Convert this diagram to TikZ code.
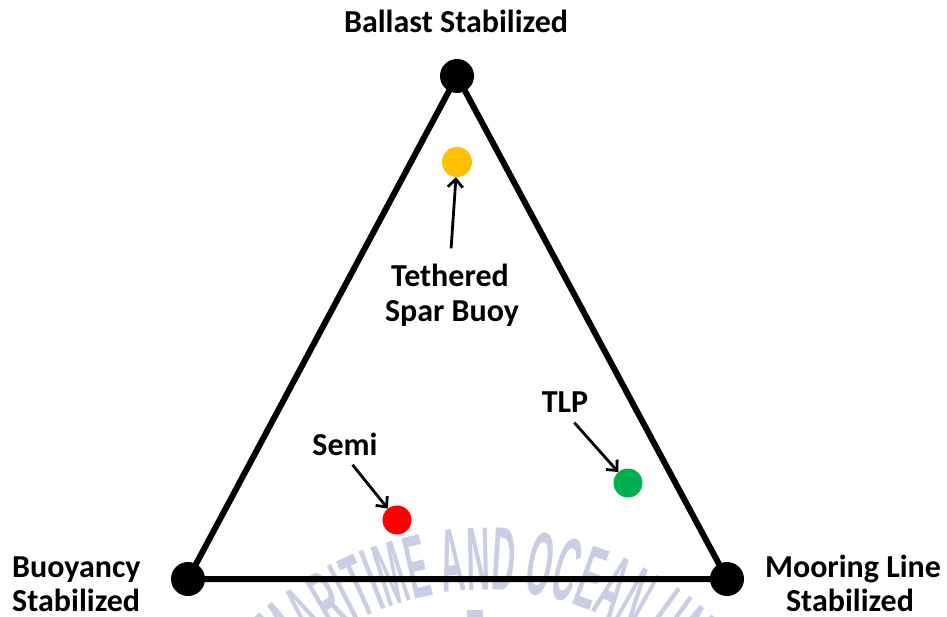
\documentclass[tikz,border=0pt]{standalone}
\usepackage{fontspec}
\setmainfont{Carlito}
\newfontfamily\wmfont[FakeStretch=0.36]{Liberation Sans Bold}
\usetikzlibrary{arrows.meta,decorations.text}
\definecolor{sparY}{RGB}{255,192,0}
\definecolor{semiR}{RGB}{255,0,0}
\definecolor{tlpG}{RGB}{0,176,80}
\definecolor{wmark}{RGB}{202,206,228}
\pgfdeclarelayer{background}
\pgfsetlayers{background,main}
\begin{document}
\begin{tikzpicture}[x=1pt,y=-1pt,
  lbl/.style={font=\fontsize{32}{34}\selectfont\bfseries, inner sep=0pt, anchor=base},
  vtx/.style={circle, fill=black, minimum size=34pt, inner sep=0pt},
  platdot/.style={circle, minimum size=29pt, inner sep=0pt},
  ptr/.style={-{Straight Barb[length=8pt,width=15pt]}, line width=2.8pt}]
\useasboundingbox (0,0) rectangle (947,617);

% corner nodes of the triangle
\node[vtx] (ballast) at (457,76) {};
\node[vtx] (buoy) at (188,579) {};
\node[vtx] (moor) at (727,579) {};

\begin{pgfonlayer}{background}
  % faint university seal behind the drawing
  \begin{scope}
    \clip (0,0) rectangle (947,617);
    \path[decorate, decoration={text along path, text align=center, text color=wmark,
      text={|\wmfont\fontsize{90}{90}\selectfont|MARITIME AND OCEAN UN}}]
      (485,869) ++(200:279) arc[start angle=200, end angle=340, radius=279];
    \fill[wmark] (467,610) rectangle (483,617);
  \end{scope}
  % triangle edges
  \draw[line width=6pt, line join=round] (ballast.center) -- (buoy.center) -- (moor.center) -- cycle;
\end{pgfonlayer}

% platform types
\node[platdot, fill=sparY, minimum size=30pt] (spar) at (457,162) {};
\node[platdot, fill=semiR] (semi) at (397,520) {};
\node[platdot, fill=tlpG] (tlp) at (628,483) {};

% corner labels
\node[lbl] (ballastlbl) at (456,33) {Ballast Stabilized};
\node[lbl, anchor=base west] (buoylblA) at (12,577) {Buoyancy};
\node[lbl, anchor=base west] (buoylblB) at (12,611) {Stabilized};
\node[lbl] (moorlblA) at (853,577) {Mooring Line};
\node[lbl] (moorlblB) at (850,611) {Stabilized};

% platform labels
\node[lbl] (tethlbl) at (450,287) {Tethered};
\node[lbl] (sparlbl) at (452,322) {Spar Buoy};
\node[lbl] (semilbl) at (345,455) {Semi};
\node[lbl] (tlplbl) at (565,412) {TLP};

% pointers
\draw[ptr, shorten <=16pt] (tethlbl.north) -- (spar);
\draw[ptr, shorten <=12pt] (semilbl.south) -- (semi);
\draw[ptr, shorten <=14pt] (tlplbl.south) -- (tlp);
\end{tikzpicture}
\end{document}
